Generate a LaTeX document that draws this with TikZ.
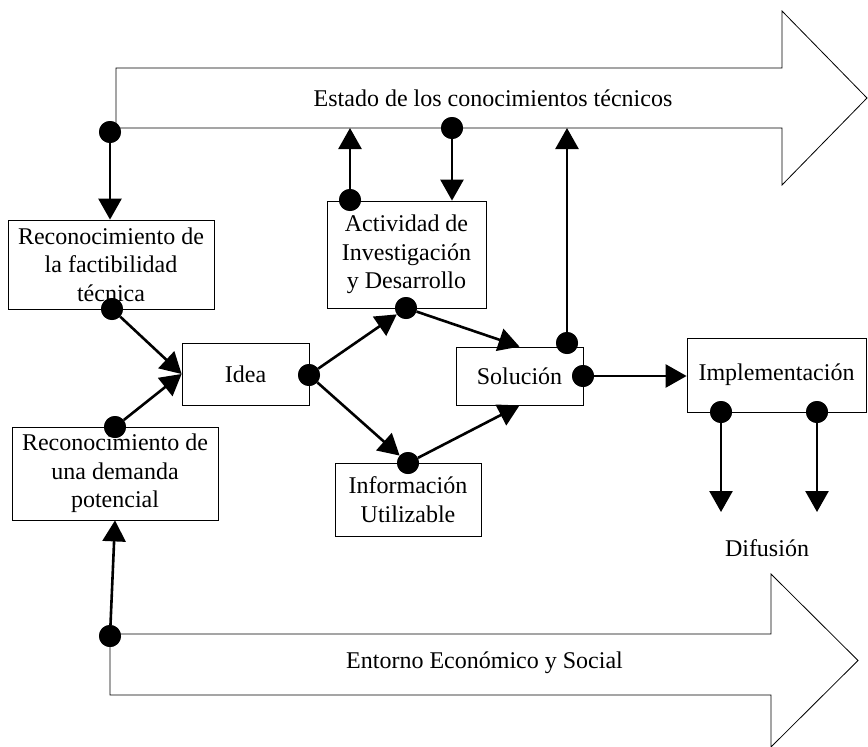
\documentclass[tikz,border=0pt]{standalone}
\usepackage{fontspec}
\setmainfont{Liberation Serif}
\usetikzlibrary{arrows.meta}
\begin{document}
\begin{tikzpicture}[x=1pt,y=-1pt,
  font=\fontsize{24}{28.5}\selectfont,
  box/.style={draw,line width=0.8pt,fill=white,inner sep=0pt,align=center},
  dot/.style={circle,fill=black,inner sep=0pt,minimum size=22pt},
  conn/.style={line width=2.6pt,-{Triangle[length=21pt,width=23pt]}},
  bigarrow/.style={draw,line width=0.8pt,fill=white}]
\useasboundingbox (0,0) rectangle (868,747);
% big arrows
\draw[bigarrow] (116,68) -- (782,68) -- (782,11) -- (867,98) -- (782,185) -- (782,128) -- (116,128) -- cycle;
\node (estado) at (493,98) {Estado de los conocimientos técnicos};
\draw[bigarrow] (110,634) -- (771,634) -- (771,574) -- (858,660.5) -- (771,747) -- (771,695) -- (110,695) -- cycle;
\node (entorno) at (484.5,663) {Entorno Económico y Social};
% boxes
\node[box,minimum width=206pt,minimum height=89pt] (fact) at (111,264.5) {Reconocimiento de\\la factibilidad\\técnica};
\node[box,minimum width=159pt,minimum height=107pt] (act) at (406.5,254.5) {Actividad de\\Investigación\\y Desarrollo};
\node[box,minimum width=127pt,minimum height=62pt] (idea) at (245.5,374) {Idea};
\node[box,minimum width=127pt,minimum height=58pt] (sol) at (519.5,376) {Solución};
\node[box,minimum width=179pt,minimum height=74pt] (impl) at (776.5,375) {Implementación};
\node[box,minimum width=146pt,minimum height=73pt] (info) at (408,499.5) {Información\\Utilizable};
\node[box,minimum width=206pt,minimum height=93pt] (dem) at (115,473.5) {Reconocimiento de\\una demanda\\potencial};
\node (dif) at (767,548) {Difusión};
% dots
\node[dot] (d1) at (110,132) {};
\node[dot] (d2) at (452,128) {};
\node[dot] (d3) at (350,200) {};
\node[dot] (d4) at (112,309) {};
\node[dot] (d5) at (115,427) {};
\node[dot] (d6) at (309,375) {};
\node[dot] (d7) at (406,308) {};
\node[dot] (d8) at (408,463) {};
\node[dot] (d9) at (567,343) {};
\node[dot] (d10) at (583,376) {};
\node[dot] (d11) at (721,412) {};
\node[dot] (d12) at (817,412) {};
\node[dot] (d13) at (110,636) {};
% free ends
\coordinate (t1) at (350,128);
\coordinate (t2) at (567,128);
\coordinate (b1) at (721,512);
\coordinate (b2) at (817,512);
% connectors
\draw[conn] (d1) -- (d1 |- fact.north);
\draw[conn] (d2) -- (d2 |- act.north);
\draw[conn] (d3) -- (t1);
\draw[conn] (d4) -- (idea.west);
\draw[conn] (d5) -- (idea.west);
\draw[conn] (d6) -- (d7);
\draw[conn] (d6) -- (d8);
\draw[conn] (d7) -- (sol.north);
\draw[conn] (d8) -- (sol.south);
\draw[conn] (d9) -- (t2);
\draw[conn] (d10) -- (d10 -| impl.west);
\draw[conn] (d11) -- (b1);
\draw[conn] (d12) -- (b2);
\draw[conn] (d13) -- (dem.south);
% redraw dots on top
\foreach \d in {d1,d2,d3,d4,d5,d6,d7,d8,d9,d10,d11,d12,d13} \fill (\d) circle (11pt);
\end{tikzpicture}
\end{document}
